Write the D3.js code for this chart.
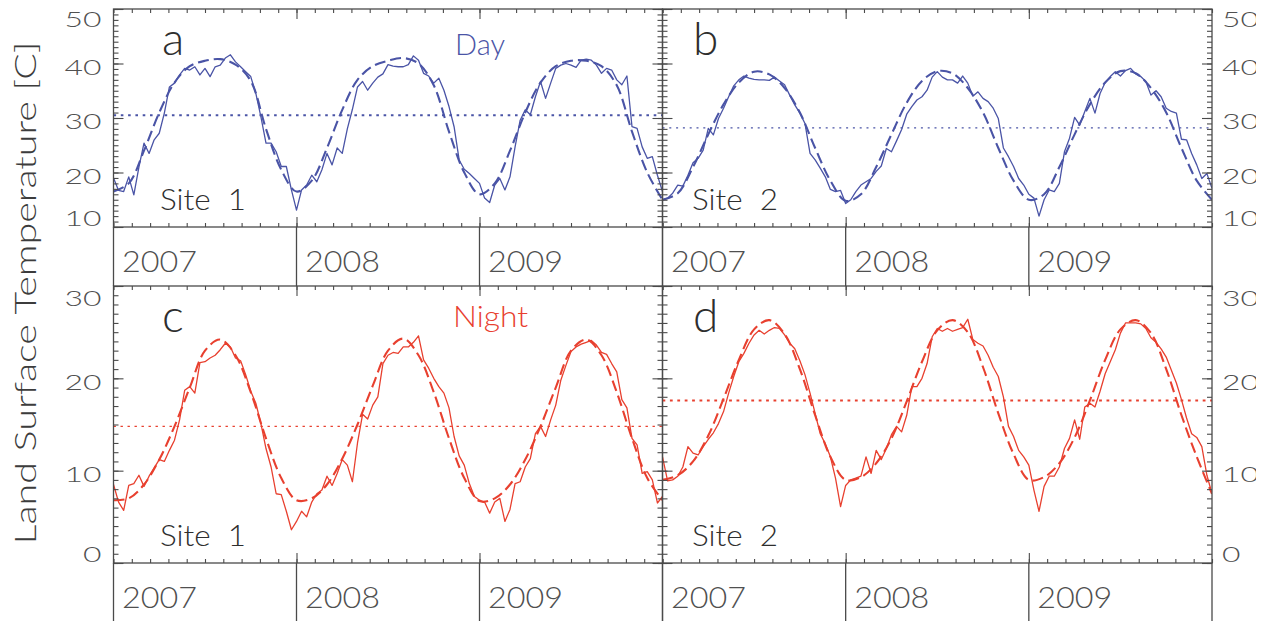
<!DOCTYPE html>
<html>
<head>
<meta charset="utf-8">
<script src="https://cdn.jsdelivr.net/npm/d3@7"></script>
<style>
  body { margin: 0; background: #fff; }
  text { font-family: Lato, "Open Sans", sans-serif; font-weight: 300; }
</style>
</head>
<body>
<svg width="1269" height="621"></svg>
<script>
// ---- data ----
const years = [2007, 2008, 2009];
const perYear = 36;      // samples per year of the observed series
const fitPerYear = 12;   // samples per year of the fitted annual cycle

const daySite1 = [19, 16.7, 16.5, 19.2, 15.9, 21, 25.4, 23.5, 26, 27.2,
  30.9, 35.7, 36.4, 37.9, 39.1, 38.8, 39.4, 37.9, 39.1, 37.6,
  39.4, 39.7, 41, 41.6, 40.3, 39.4, 38.5, 37.6, 34.5, 30.2,
  25.4, 25.4, 23.8, 21.1, 21.1, 16.8, 13.1, 16.8, 17.7, 19.5,
  18.3, 20.5, 23.5, 21.4, 24.5, 23.5, 28, 31.6, 35.7, 36.7,
  35.1, 36.4, 37.5, 38.1, 39.8, 39.5, 39.4, 39.4, 39.8, 41.4,
  40.6, 38.2, 37.7, 36.4, 37.3, 35.1, 32.1, 28.4, 22.3, 20.6,
  19.8, 18.9, 18, 15.3, 14.5, 17.7, 18.9, 16.8, 19.2, 24.7,
  29.6, 31.5, 30.6, 33.9, 36.7, 33.6, 36.4, 39.1, 39.7, 40,
  39.7, 39.3, 40.6, 40.8, 40.6, 39.7, 38.2, 39.1, 38.8, 37,
  36.1, 37.7, 28.4, 28.1, 24.7, 22.6, 22.9, 19.5, 16.5];

const daySite2 = [15, 15.3, 16.2, 17.7, 17.5, 19.5, 21.8, 22.6, 24.1, 28.1,
  26.9, 29.9, 31.8, 33.9, 35.9, 37, 37.7, 37.3, 37.1, 37,
  37, 36.9, 37.5, 36.8, 36.1, 34.2, 32.4, 30.9, 29, 23.5,
  22.3, 20.8, 19.2, 16.9, 16.5, 16.7, 14.3, 15, 16.5, 17.7,
  18.3, 18.9, 20.2, 21.2, 24.4, 23.8, 25.8, 27.9, 30.7, 32.1,
  33.3, 33.9, 35.1, 37.5, 38.5, 37.5, 37, 37, 36.4, 37.7,
  36.4, 34, 34.8, 33.6, 33, 31.8, 29.9, 24.5, 22.9, 21.1,
  18.9, 17.7, 16, 15.3, 12, 15, 16.8, 16.5, 18, 23.8,
  26.3, 30.1, 28.7, 31.2, 33.6, 30.9, 34.5, 36.5, 37.6, 38.5,
  37.7, 38.7, 39.1, 38.1, 37.6, 36.7, 34.2, 35, 33.9, 31.8,
  31.2, 30.9, 26.1, 26, 23.5, 21.4, 18.9, 19.8, 17.1];

const nightSite1 = [8.5, 6.6, 5.7, 8.4, 8.6, 9.5, 8.3, 9.4, 10.3, 11.2,
  11, 12.2, 13.3, 15.5, 18.7, 19.1, 18.4, 21.7, 21.8, 22.2,
  22.5, 23.1, 23.8, 23.4, 22.2, 21.9, 20.4, 18.6, 17.3, 15.1,
  12.4, 10.4, 7.5, 7.4, 5.6, 3.6, 4.5, 5.6, 5, 6.6,
  7.5, 7.9, 9.4, 8.4, 9.7, 11.2, 10.6, 8.8, 13, 16.1,
  15.6, 17.1, 18, 21.6, 22.5, 22.8, 22.7, 23.4, 23.4, 23.9,
  24.6, 22, 21.1, 20, 19.1, 18.4, 16.8, 13.7, 11.6, 10.6,
  8.6, 7.2, 6.8, 6.6, 5.4, 6.6, 7, 4.5, 5.8, 8.6,
  8.8, 10.4, 11.3, 14, 14.8, 13.7, 15.5, 17.1, 19.8, 21.4,
  22.9, 23.4, 23.7, 23.9, 24.1, 23.6, 22.8, 22.6, 21.6, 20.7,
  17.7, 16.8, 13.5, 12.8, 9.7, 9.9, 9, 6.5, 7.2];

const nightSite2 = [11.5, 8.9, 9, 9.4, 10.4, 12.6, 11.9, 11.7, 12.6, 13.4,
  14.1, 15.1, 16.4, 18.4, 20.2, 21.8, 22.7, 23.8, 24.7, 25.2,
  24.8, 25.2, 25.5, 25.4, 24.7, 23.8, 23.2, 21.9, 20.4, 18.4,
  16.2, 14, 12.9, 11.5, 9.2, 6.1, 8.4, 9, 9.2, 9.4,
  11.5, 9.7, 12.2, 11.2, 12.4, 13.9, 14.8, 14.2, 16, 19.1,
  19.1, 20, 21.6, 24.5, 25.4, 25.1, 25.4, 25.1, 25.3, 25.5,
  26.4, 24.2, 23.8, 23.5, 22.5, 21.2, 20.2, 18, 14.8, 13.7,
  12.2, 11.5, 10.6, 7.9, 5.6, 8.3, 9.4, 9.4, 10.4, 12.4,
  13.5, 15.5, 13.4, 16.9, 17.3, 16.9, 18.6, 20.5, 21.8, 23.1,
  24.9, 26, 26, 26, 25.9, 25.4, 24.4, 23.9, 23.2, 22.3,
  20.9, 19.5, 17.7, 15.7, 14, 13.6, 12.6, 9.5, 7.5];

const dayFit1 = [16.5, 18, 24, 31, 36.5, 39.5, 40.5, 40.8, 39.8, 36.8, 28, 20.5,
  16.5, 18.5, 24.5, 31.5, 37, 39.5, 40.5, 41, 40, 36, 27.5, 20,
  16, 18, 24, 31, 36.5, 39.5, 40.5, 40.5, 39.5, 36, 27.5, 20, 15];
const dayFit2 = [15, 16.2, 21, 27, 32.5, 36.5, 38.5, 38, 35.5, 31, 24.5, 18.5,
  14.8, 16, 21, 27, 32.8, 36.8, 38.6, 38.2, 35.5, 31, 24.5, 18.5,
  15, 16, 21, 27, 32.5, 36.5, 38.6, 38.2, 35.5, 31, 24.5, 18.5, 15];
const nightFit1 = [6.8, 7, 8.5, 11.2, 14.8, 19, 23, 24.2, 22.5, 18.5, 13.5, 9.2,
  6.8, 7, 8.5, 11.3, 15, 19.2, 23, 24.3, 22.5, 18.5, 13.5, 9.2,
  6.7, 7, 8.5, 11.2, 14.8, 19, 23, 24.2, 22.5, 18.5, 13.5, 9.2, 6.8];
const nightFit2 = [9, 9.5, 11, 13.8, 17.8, 22, 25.3, 26.3, 24.8, 21, 16, 11.5,
  9, 9.3, 10.8, 13.5, 17.5, 21.8, 25.2, 26.3, 25, 21.2, 16.2, 11.8,
  9, 9.3, 10.8, 13.6, 17.6, 22, 25.3, 26.3, 24.9, 21, 16, 11.5, 7.5];

const dayMean = [30.5, 28.2];
const nightMean = [14.8, 17.6];

const dayTicks = [10, 20, 30, 40, 50];
const nightTicks = [0, 10, 20, 30];

// ---- layout ----
const svg = d3.select('svg');
const blue = '#4a54a6', red = '#e8402f';
const ink = '#4a4a4a', labelGrey = '#505050';

const cols = [{x0: 113.5, x1: 662.5}, {x0: 662.5, x1: 1212}];
const rows = [
  {y0: 9, y1: 227, stripEnd: 286, domain: [10, 50], ticks: dayTicks, nudge: [-9, 10.5]},
  {y0: 286, y1: 563, stripEnd: 622, domain: [0, 30], ticks: nightTicks, nudge: [-9, 12]}
];

const panels = [
  {letter: 'a', row: 0, col: 0, obs: daySite1, fit: dayFit1, mean: dayMean[0], color: blue,
   site: 'Site  1', dot: [2, '2.6,4.7'], letterX: 48.5, siteX: 46.5},
  {letter: 'b', row: 0, col: 1, obs: daySite2, fit: dayFit2, mean: dayMean[1], color: blue,
   site: 'Site  2', dot: [1.2, '2,4.8'], letterX: 30.5, siteX: 29.5},
  {letter: 'c', row: 1, col: 0, obs: nightSite1, fit: nightFit1, mean: nightMean[0], color: red,
   site: 'Site  1', dot: [1.3, '2.4,4.6'], letterX: 48.5, siteX: 46.5},
  {letter: 'd', row: 1, col: 1, obs: nightSite2, fit: nightFit2, mean: nightMean[1], color: red,
   site: 'Site  2', dot: [2.2, '2.8,4.6'], letterX: 30.5, siteX: 29.5}
];

const defs = svg.append('defs');
defs.append('clipPath').attr('id', 'pageclip')
  .append('rect').attr('x', 0).attr('y', 0).attr('width', 1256).attr('height', 621);

const minorX = d3.range(0, 31).map(k => 2007 + k / 10);

function styleAxis(g) {
  g.select('.domain').remove();
  g.selectAll('line').attr('stroke', ink).attr('stroke-width', 1.1);
}

panels.forEach(p => {
  const c = cols[p.col], r = rows[p.row];
  const x = d3.scaleLinear().domain([2007, 2010]).range([c.x0, c.x1]);
  const y = d3.scaleLinear().domain(r.domain).range([r.y1, r.y0]);
  const g = svg.append('g').attr('class', 'panel-' + p.letter);

  const clipId = 'clip-' + p.letter;
  defs.append('clipPath').attr('id', clipId)
    .append('rect').attr('x', c.x0).attr('y', r.y0).attr('width', c.x1 - c.x0).attr('height', r.y1 - r.y0);

  const marks = g.append('g').attr('clip-path', `url(#${clipId})`);

  // mean level (dotted)
  marks.append('line')
    .attr('x1', x(2007)).attr('x2', x(2010))
    .attr('y1', y(p.mean)).attr('y2', y(p.mean))
    .attr('stroke', p.color).attr('stroke-width', p.dot[0])
    .attr('stroke-dasharray', p.dot[1]);

  // fitted annual cycle (dashed)
  const fitLine = d3.line()
    .x((d, i) => x(2007 + i / fitPerYear)).y(d => y(d))
    .curve(d3.curveCatmullRom.alpha(0.5));
  marks.append('path').datum(p.fit)
    .attr('d', fitLine).attr('fill', 'none')
    .attr('stroke', p.color).attr('stroke-width', 2.1)
    .attr('stroke-dasharray', '11,5');

  // observed series (solid)
  const obsLine = d3.line()
    .x((d, i) => x(2007 + i / perYear)).y(d => y(d));
  marks.append('path').datum(p.obs)
    .attr('d', obsLine).attr('fill', 'none')
    .attr('stroke', p.color).attr('stroke-width', 1.3)
    .attr('stroke-linejoin', 'round');

  // y ticks: minor every 1, major every 10, all inward
  const minorY = d3.range(r.domain[0], r.domain[1] + 1);
  g.append('g').attr('transform', `translate(${c.x0},0)`)
    .call(d3.axisLeft(y).tickValues(minorY).tickSize(-5).tickFormat(''))
    .call(styleAxis);
  g.append('g').attr('transform', `translate(${c.x0},0)`)
    .call(d3.axisLeft(y).tickValues(r.ticks).tickSize(-10).tickFormat(''))
    .call(styleAxis);
  g.append('g').attr('transform', `translate(${c.x1},0)`)
    .call(d3.axisRight(y).tickValues(minorY).tickSize(-5).tickFormat(''))
    .call(styleAxis);
  g.append('g').attr('transform', `translate(${c.x1},0)`)
    .call(d3.axisRight(y).tickValues(r.ticks).tickSize(-10).tickFormat(''))
    .call(styleAxis);

  // x ticks on bottom and top, inward
  g.append('g').attr('transform', `translate(0,${r.y1})`)
    .call(d3.axisBottom(x).tickValues(minorX).tickSize(-4).tickFormat(''))
    .call(styleAxis);
  g.append('g').attr('transform', `translate(0,${r.y1})`)
    .call(d3.axisBottom(x).tickValues(years.slice(1)).tickSize(-10).tickFormat(''))
    .call(styleAxis);
  g.append('g').attr('transform', `translate(0,${r.y0})`)
    .call(d3.axisTop(x).tickValues(minorX).tickSize(-4).tickFormat(''))
    .call(styleAxis);
  g.append('g').attr('transform', `translate(0,${r.y0})`)
    .call(d3.axisTop(x).tickValues(years.slice(1)).tickSize(-10).tickFormat(''))
    .call(styleAxis);

  // frame
  g.append('rect')
    .attr('x', c.x0).attr('y', r.y0).attr('width', c.x1 - c.x0).attr('height', r.y1 - r.y0)
    .attr('fill', 'none').attr('stroke', ink).attr('stroke-width', 1.3);

  // year strip below the panel
  const strip = g.append('g');
  strip.selectAll('line.div').data([2007, 2008, 2009, 2010]).join('line')
    .attr('class', 'div')
    .attr('x1', d => x(d)).attr('x2', d => x(d))
    .attr('y1', r.y1).attr('y2', r.stripEnd)
    .attr('stroke', ink).attr('stroke-width', 1.3);
  strip.selectAll('text.year').data(years).join('text')
    .attr('class', 'year')
    .attr('x', d => x(d) + 8.5).attr('y', r.y1 + 45)
    .attr('font-size', 30)
    .attr('fill', labelGrey)
    .attr('textLength', 75).attr('lengthAdjust', 'spacingAndGlyphs')
    .text(d => d);

  // tick labels (left of left panels, right of right panels)
  const isLeft = p.col === 0;
  const lab = g.append('g').attr('clip-path', 'url(#pageclip)');
  lab.selectAll('text').data(r.ticks).join('text')
    .attr('x', isLeft ? c.x0 - 12 : c.x1 + 10)
    .attr('y', (d, i) => {
      let off = 3.5;
      if (i === 0) off = r.nudge[0];
      if (i === r.ticks.length - 1) off = r.nudge[1];
      return y(d) + off;
    })
    .attr('dy', '0.36em')
    .attr('text-anchor', isLeft ? 'end' : 'start')
    .attr('font-size', 21.5)
    .attr('fill', labelGrey)
    .attr('textLength', d => String(d).length * 18.5)
    .attr('lengthAdjust', 'spacingAndGlyphs')
    .text(d => d);

  // panel letter and site name
  g.append('text')
    .attr('x', c.x0 + p.letterX).attr('y', r.y0 + 46)
    .attr('font-size', 46).attr('fill', '#2e2e2e')
    .text(p.letter);
  g.append('text')
    .attr('x', c.x0 + p.siteX).attr('y', r.y1 - 17)
    .attr('font-size', 30).attr('fill', '#2e2e2e')
    .attr('textLength', 86).attr('lengthAdjust', 'spacingAndGlyphs')
    .style('white-space', 'pre')
    .text(p.site);
});

// Day / Night captions
svg.append('text')
  .attr('x', 455).attr('y', 55)
  .attr('font-size', 30).attr('fill', blue)
  .attr('textLength', 50).attr('lengthAdjust', 'spacingAndGlyphs')
  .text('Day');
svg.append('text')
  .attr('x', 453).attr('y', 327)
  .attr('font-size', 30).attr('fill', red)
  .attr('textLength', 75).attr('lengthAdjust', 'spacingAndGlyphs')
  .text('Night');

// y-axis title
svg.append('text')
  .attr('transform', 'translate(36,293) rotate(-90)')
  .attr('text-anchor', 'middle')
  .attr('font-size', 30).attr('fill', '#3c3c3c')
  .attr('textLength', 503).attr('lengthAdjust', 'spacingAndGlyphs')
  .text('Land Surface Temperature [C]');
</script>
</body>
</html>
